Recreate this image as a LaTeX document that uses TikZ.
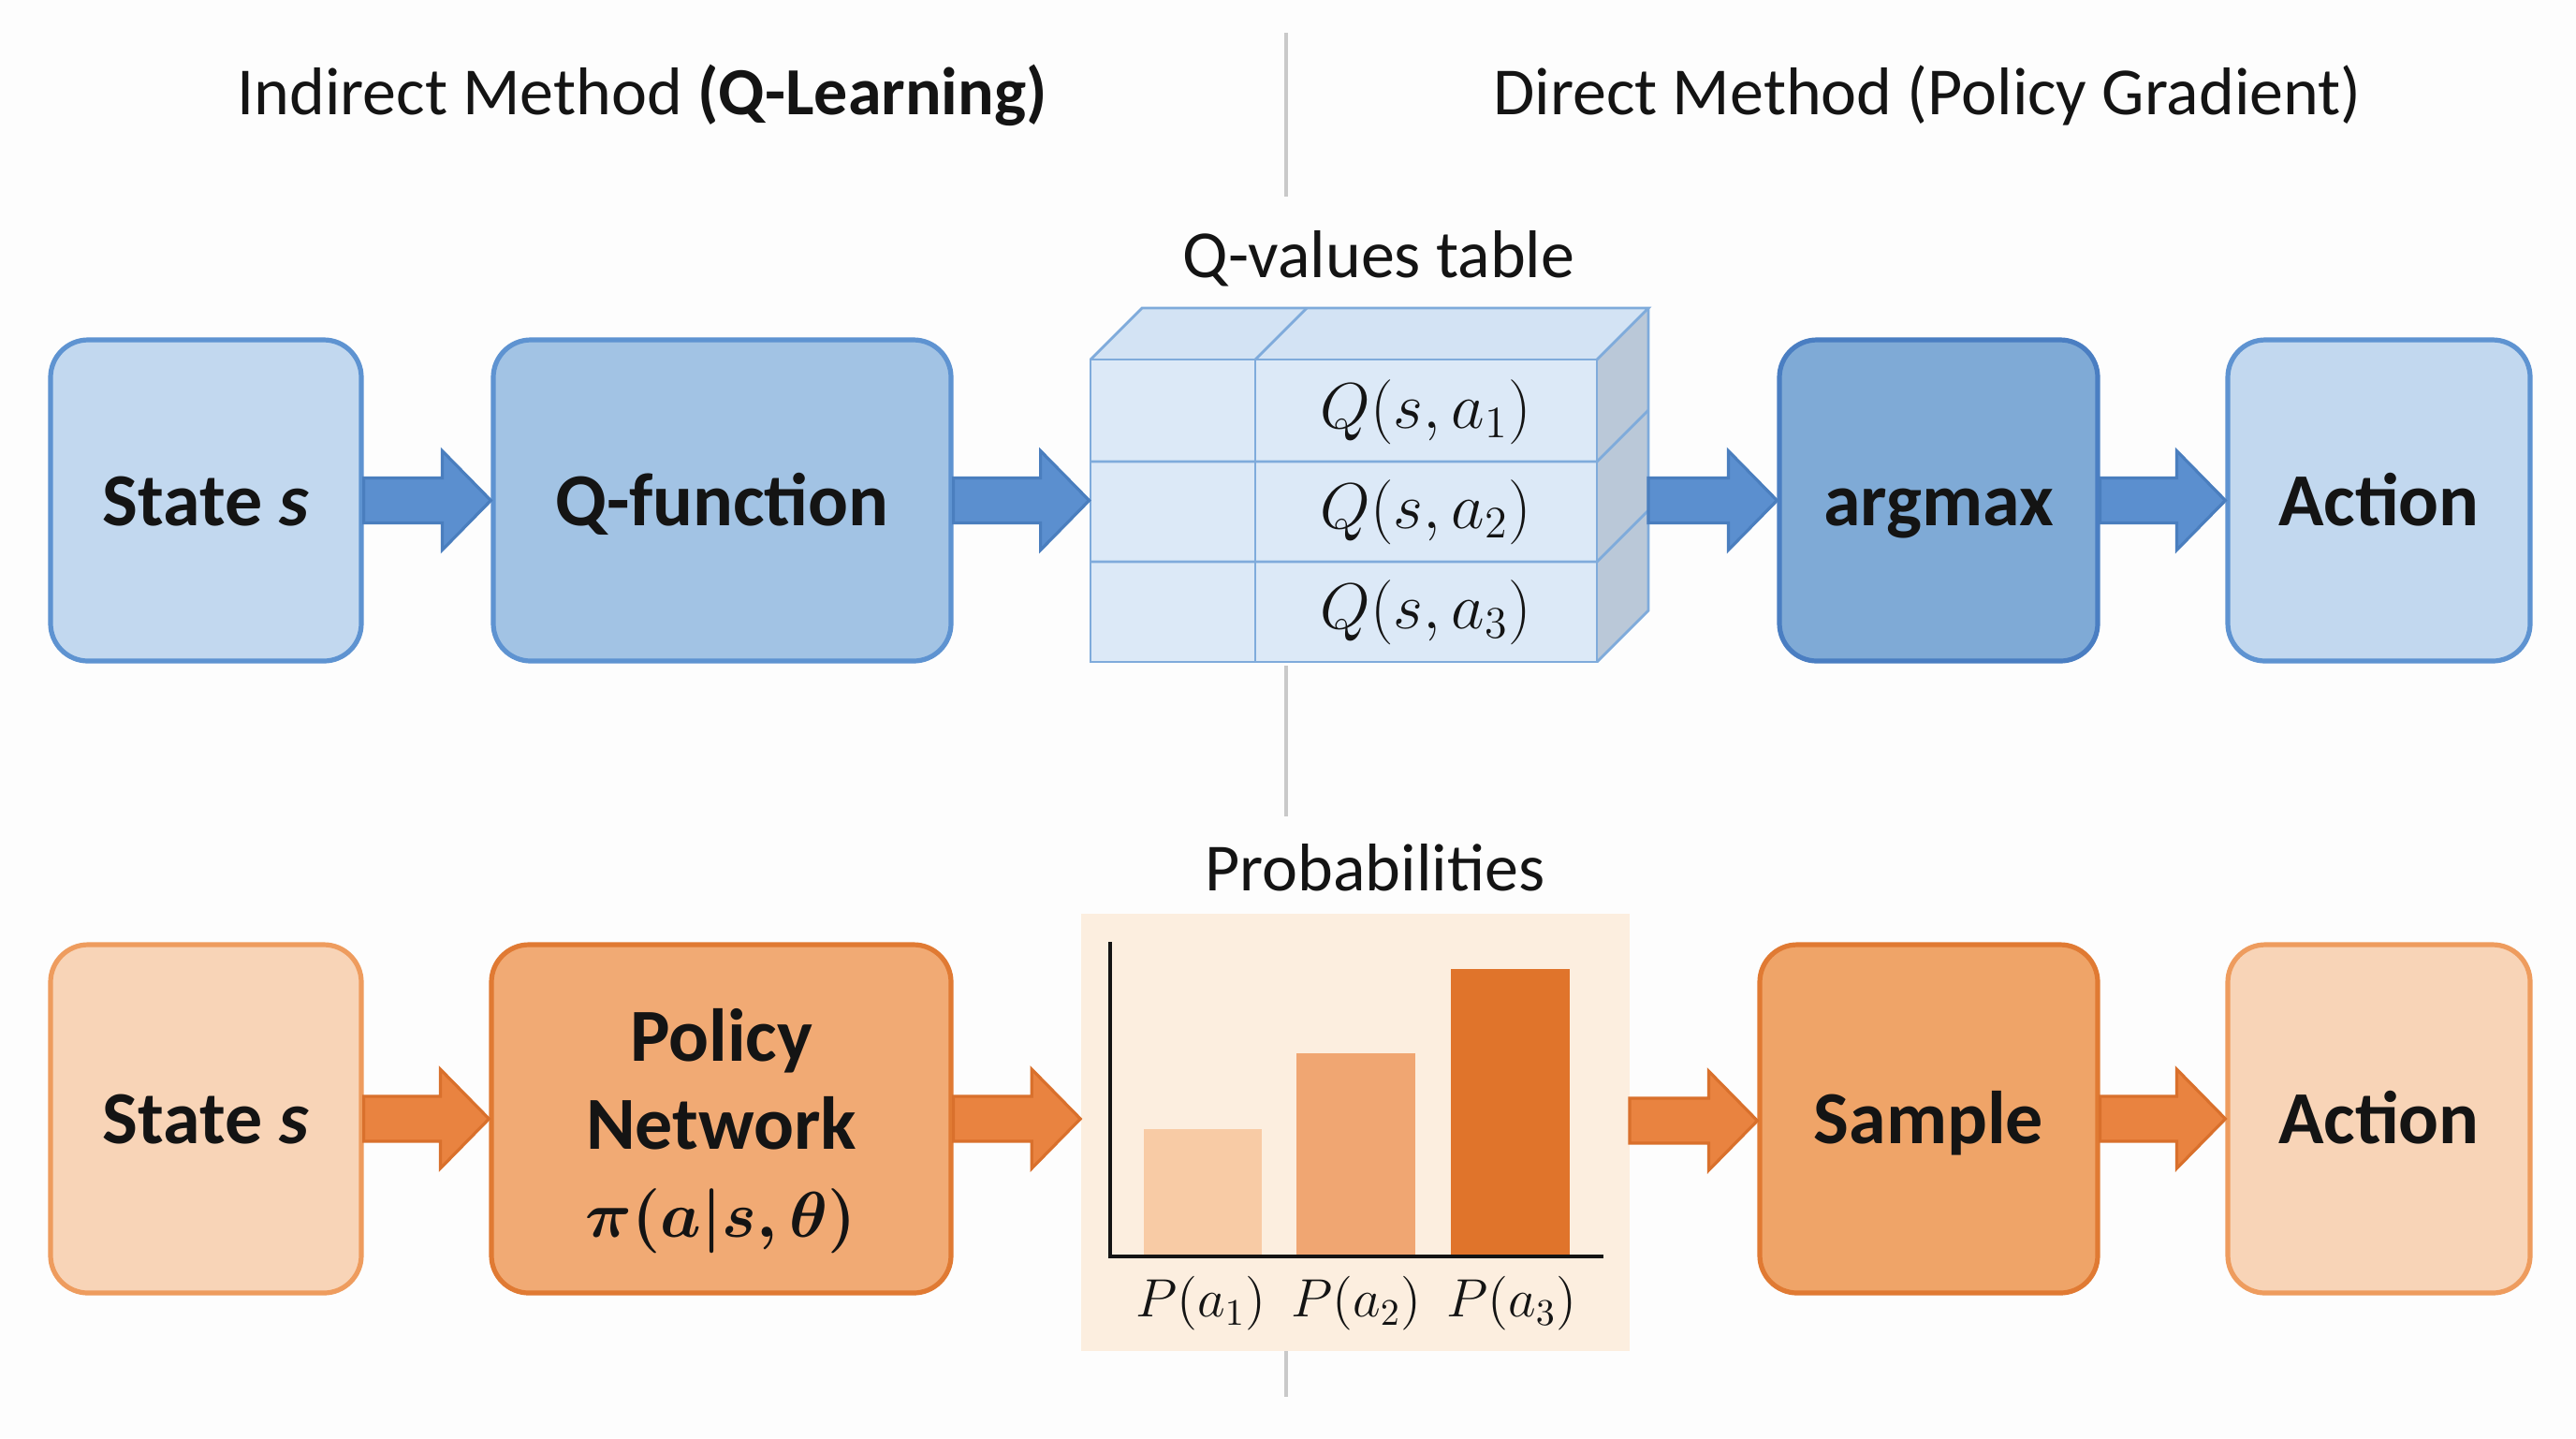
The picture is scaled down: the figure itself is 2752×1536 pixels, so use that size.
\documentclass[tikz,border=0pt]{standalone}
\usepackage[no-math]{fontspec}
\setmainfont{Carlito}
\usepackage{amsmath}
\usetikzlibrary{calc}
\definecolor{bgc}{HTML}{FDFDFD}
\definecolor{txt}{HTML}{141414}
\definecolor{bluelight}{HTML}{C2D8EF}
\definecolor{bluemid}{HTML}{A2C3E4}
\definecolor{bluedark}{HTML}{7FAAD6}
\definecolor{blueedge}{HTML}{5E93D1}
\definecolor{bluedarkedge}{HTML}{4A7EC2}
\definecolor{bluearrow}{HTML}{5B8FCF}
\definecolor{bluearrowedge}{HTML}{4A7EBE}
\definecolor{tablefill}{HTML}{DCE9F7}
\definecolor{tabletop}{HTML}{D3E3F4}
\definecolor{tableside}{HTML}{BAC8D8}
\definecolor{tableline}{HTML}{7FABDB}
\definecolor{orlight}{HTML}{F8D4B7}
\definecolor{orlightedge}{HTML}{EE9C5E}
\definecolor{ormid}{HTML}{F1AA74}
\definecolor{ormidedge}{HTML}{E07A33}
\definecolor{orsample}{HTML}{EFA468}
\definecolor{orarrow}{HTML}{E98340}
\definecolor{orarrowedge}{HTML}{D9702C}
\definecolor{chartbg}{HTML}{FCEEDF}
\definecolor{barone}{HTML}{F8CBA5}
\definecolor{bartwo}{HTML}{F0A672}
\definecolor{barthree}{HTML}{E0742B}
\definecolor{divider}{HTML}{C9C9C9}
\newcommand{\blockarrow}[3]{%
  \path[#3] let \p1=(#1), \p2=(#2) in
   (\x1,\y1+6pt) -- (\x2-13pt,\y1+6pt) -- (\x2-13pt,\y1+13.25pt) -- (\x2,\y1)
   -- (\x2-13pt,\y1-13.25pt) -- (\x2-13pt,\y1-6pt) -- (\x1,\y1-6pt) -- cycle;}
\tikzset{
  boxfont/.style={text=txt, font=\fontsize{20pt}{23.5pt}\selectfont\bfseries, align=center},
  box/.style={rectangle, rounded corners=10pt, line width=1.3pt, boxfont,
    text height=17.4pt, text depth=4pt},
  topbox/.style={box, minimum height=85.75pt},
  botbox/.style={box, minimum height=93pt},
  bluearr/.style={fill=bluearrow, draw=bluearrowedge, line width=0.8pt, line join=miter},
  orarr/.style={fill=orarrow, draw=orarrowedge, line width=0.8pt, line join=miter},
  title/.style={font=\fontsize{18pt}{22pt}\selectfont, text=txt},
  sublabel/.style={font=\fontsize{18pt}{21pt}\selectfont, text=txt},
  tline/.style={draw=tableline, line width=0.7pt},
  qval/.style={font=\fontsize{17pt}{20pt}\selectfont, text=txt},
  pval/.style={font=\fontsize{14.5pt}{17pt}\selectfont, text=txt},
  divline/.style={draw=divider, line width=1pt}
}
\begin{document}
\begin{tikzpicture}[x=0.25pt, y=-0.25pt]
\fill[bgc] (0,0) rectangle (2752,1536);
\useasboundingbox (0,0) rectangle (2752,1536);
% divider
\draw[divline] (1374,35) -- (1374,210);
\draw[divline] (1374,711) -- (1374,872);
\draw[divline] (1374,1443) -- (1374,1492);
% titles
\node[title] (t1) at (686,102) {Indirect Method \textbf{(Q-Learning)}};
\node[title] (t2) at (2059,102) {Direct Method (Policy Gradient)};
\node[sublabel] (qlab) at (1473,276) {Q-values table};
\node[sublabel] (plab) at (1469,927) {Probabilities};
% top row
\node[topbox, fill=bluelight, draw=blueedge, minimum width=83pt] (s1) at (220,534.5) {State \textit{s}};
\node[topbox, fill=bluemid, draw=blueedge, minimum width=122.25pt] (qf) at (771.5,534.5) {Q-function};
\node[topbox, fill=bluedark, draw=bluedarkedge, minimum width=85pt] (am) at (2071,534.5) {argmax};
\node[topbox, fill=bluelight, draw=blueedge, minimum width=80.75pt] (a1) at (2541.5,534.5) {Action};
% Q table
\fill[tabletop] (1165,384) -- (1220,329) -- (1761,329) -- (1706,384) -- cycle;
\fill[tableside] (1706,384) -- (1761,329) -- (1761,652) -- (1706,707) -- cycle;
\node[rectangle, fill=tablefill, tline, minimum width=135.25pt, minimum height=80.75pt] (qt) at (1435.5,545.5) {};
\draw[tline] (1165,384) -- (1220,329) -- (1761,329) -- (1706,384);
\draw[tline] (1761,329) -- (1761,652) -- (1706,707);
\draw[tline] (1341,384) -- (1396,329);
\draw[tline] (1341,384) -- (1341,707);
\draw[tline] (1165,493) -- (1706,493) -- (1761,438);
\draw[tline] (1165,600) -- (1706,600) -- (1761,545);
\node[qval] (q1) at (1523.5,440) {$Q(s,a_1)$};
\node[qval] (q2) at (1523.5,547) {$Q(s,a_2)$};
\node[qval] (q3) at (1523.5,654) {$Q(s,a_3)$};
\coordinate (qtR) at (1761,534.5);
% top arrows
\blockarrow{s1.east}{qf.west}{bluearr}
\blockarrow{qf.east}{qt.west}{bluearr}
\blockarrow{qtR}{am.west}{bluearr}
\blockarrow{am.east}{a1.west}{bluearr}
% bottom row
\node[botbox, fill=orlight, draw=orlightedge, minimum width=83pt] (s2) at (220,1195) {State \textit{s}};
\node[botbox, fill=ormid, draw=ormidedge, minimum width=122.75pt] (pn) at (770.5,1195) {};
\node[boxfont] (pntext) at (770.5,1208) {Policy\\Network\\{\fontsize{18pt}{23.5pt}\selectfont$\boldsymbol{\pi(a|s,\theta)}$}};
\node[botbox, fill=orsample, draw=ormidedge, minimum width=90.25pt] (sm) at (2060.5,1195) {Sample};
\node[botbox, fill=orlight, draw=orlightedge, minimum width=80.75pt] (a2) at (2541.5,1195) {Action};
% chart
\node[rectangle, fill=chartbg, minimum width=146.5pt, minimum height=116.75pt] (chart) at (1448,1209.5) {};
\fill[barone] (1222,1206) rectangle (1348,1342);
\fill[bartwo] (1385,1125) rectangle (1512,1342);
\fill[barthree] (1550,1035) rectangle (1677,1342);
\draw[txt, line width=0.8pt] (1186,1006) -- (1186,1342) -- (1713,1342);
\node[pval] (p1) at (1283,1392) {$P(a_1)$};
\node[pval] (p2) at (1449,1392) {$P(a_2)$};
\node[pval] (p3) at (1615,1392) {$P(a_3)$};
\coordinate (chR) at (1741,1197);
% bottom arrows
\blockarrow{s2.east}{pn.west}{orarr}
\blockarrow{pn.east}{chart.west}{orarr}
\blockarrow{chR}{sm.west}{orarr}
\blockarrow{sm.east}{a2.west}{orarr}
\end{tikzpicture}
\end{document}
